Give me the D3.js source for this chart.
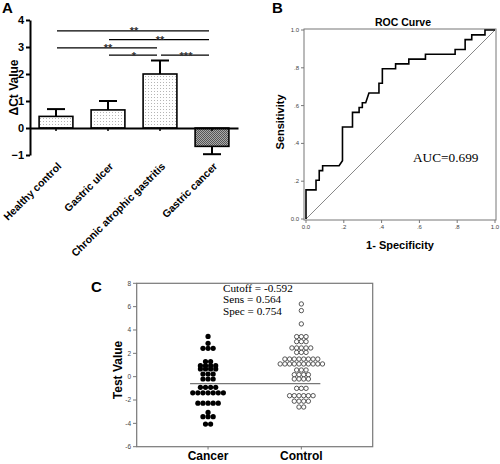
<!DOCTYPE html>
<html><head><meta charset="utf-8">
<script src="https://cdn.jsdelivr.net/npm/d3@7"></script>
<style>body{margin:0;background:#fff}svg{display:block}</style>
</head><body>
<svg id="chart" width="500" height="464"></svg>
<script>
// ---------- Panel A data ----------
const categoriesA = ["Healthy control","Gastric ulcer","Chronic atrophic gastritis","Gastric cancer"];
const meansA = [0.43, 0.67, 2.0, -0.68];
const errorsA = [0.27, 0.33, 0.5, 0.29];
const ticksA = [-1, 0, 1, 2, 3, 4];
const sigFrom = [0, 1, 0, 1, 2];
const sigTo = [3, 3, 2, 2, 3];
const sigLevel = [3.6, 3.27, 2.97, 2.7, 2.7];
const sigLabel = ["**", "**", "**", "*", "***"];
const yLabelA = "\u0394Ct Value";

// ---------- Panel B data ----------
const rocFpr = [0,0,0.053,0.053,0.070,0.070,0.088,0.088,0.175,0.193,0.193,0.246,0.246,0.281,0.281,0.298,0.298,0.316,0.333,0.386,0.386,0.404,0.404,0.474,0.474,0.544,0.544,0.632,0.632,0.789,0.789,0.842,0.842,0.877,0.877,0.947,0.947,1.0];
const rocTpr = [0,0.154,0.154,0.205,0.205,0.256,0.256,0.282,0.282,0.308,0.487,0.487,0.564,0.564,0.590,0.590,0.615,0.615,0.667,0.667,0.718,0.718,0.795,0.795,0.821,0.821,0.846,0.846,0.872,0.872,0.897,0.897,0.949,0.949,0.974,0.974,1.0,1.0];
const ticksB = [0, 0.2, 0.4, 0.6, 0.8, 1.0];
const tickLabelsB = ["0.0", ".2", ".4", ".6", ".8", "1.0"];
const titleB = "ROC Curve";
const aucText = "AUC=0.699";

// ---------- Panel C data ----------
const groupsC = ["Cancer", "Control"];
const cancerValues = [3.45, 2.86, 2.43,2.43,2.43, 1.3,1.3, 0.94,0.94,0.94,0.94, 0.66,0.66,0.66,0.66,
  0.23,0.23,0.23, -0.2,-0.2,-0.2, -0.91,-0.91,-0.91,-0.91, -1.38,-1.38,-1.38,-1.38,-1.38,-1.38,-1.38,
  -2.27,-2.27,-2.27,-2.27,-2.27, -3.06, -3.43,-3.43,-3.43, -4.06,-4.06];
const controlValues = [6.23, 5.66, 4.52, 3.43,3.43,3.43, 3.0,3.0,3.0, 2.46,2.46,2.46,2.46,2.46, 2.08,2.08,2.08,
  1.51,1.51,1.51,1.51,1.51,1.51,1.51,1.51, 1.09,1.09,1.09,1.09,1.09,1.09,1.09,1.09,1.09,1.09,
  0.57,0.57,0.57, 0.17,0.17,0.17,0.17, -0.2,-0.2,-0.2,-0.2, -1.0,-1.0,-1.0,
  -1.63,-1.63,-1.63,-1.63,-1.63,-1.63, -2.1,-2.1,-2.1,-2.1, -2.6,-2.6];
const ticksC = [-6, -4, -2, 0, 2, 4, 6, 8];
const cutoff = -0.592;
const statsText = ["Cutoff = -0.592", "Sens = 0.564", "Spec = 0.754"];

// ---------- drawing ----------
const SANS = "'Liberation Sans', Arial, sans-serif";
const SERIF = "'Liberation Serif', 'Times New Roman', serif";
const svg = d3.select("#chart");
const defs = svg.append("defs");
const pd = defs.append("pattern").attr("id","dots").attr("width",3).attr("height",3).attr("patternUnits","userSpaceOnUse");
pd.append("rect").attr("width",3).attr("height",3).attr("fill","#fff");
pd.append("rect").attr("x",1).attr("y",1).attr("width",1).attr("height",1).attr("fill","#b5b5b5");
const pc = defs.append("pattern").attr("id","check").attr("width",2).attr("height",2).attr("patternUnits","userSpaceOnUse");
pc.append("rect").attr("width",2).attr("height",2).attr("fill","#aaa");
pc.append("rect").attr("width",1).attr("height",1).attr("fill","#555");
pc.append("rect").attr("x",1).attr("y",1).attr("width",1).attr("height",1).attr("fill","#555");

function panelLabel(t, x, y) {
  svg.append("text").attr("x", x).attr("y", y).text(t)
    .attr("font-family", SANS).attr("font-weight", "bold").attr("font-size", 15);
}

// ===== Panel A =====
const yA = d3.scaleLinear().domain([-1, 4]).range([155, 20]);
const xA = d3.scaleBand().domain(categoriesA).range([30, 238]).paddingInner(0.35).paddingOuter(0.175);
const gA = svg.append("g");
panelLabel("A", 2, 13);

const axA = gA.append("g").attr("transform", "translate(30,0)")
  .call(d3.axisLeft(yA).tickValues(ticksA).tickSize(4).tickSizeOuter(0).tickPadding(2).tickFormat(d3.format("d")));
axA.select(".domain").attr("stroke-width", 2);
axA.selectAll(".tick line").attr("stroke-width", 2);
axA.selectAll("text").attr("font-family", SANS).attr("font-weight", "bold").attr("font-size", 11).attr("fill", "#000");

gA.append("text").attr("transform", `translate(18,${yA(1.5)}) rotate(-90)`)
  .attr("text-anchor", "middle").text(yLabelA)
  .attr("font-family", SANS).attr("font-weight", "bold").attr("font-size", 12);

const cA = i => xA(categoriesA[i]) + xA.bandwidth() / 2;

// bars
gA.selectAll(".bar").data(categoriesA).join("rect")
  .attr("x", d => xA(d)).attr("width", xA.bandwidth())
  .attr("y", (d, i) => yA(Math.max(0, meansA[i])))
  .attr("height", (d, i) => Math.abs(yA(meansA[i]) - yA(0)))
  .attr("fill", (d, i) => meansA[i] < 0 ? "url(#check)" : "url(#dots)")
  .attr("stroke", "#000").attr("stroke-width", 1.6);

// error bars
categoriesA.forEach((c, i) => {
  const v = meansA[i], e = errorsA[i] * Math.sign(v);
  const x = cA(i);
  gA.append("line").attr("x1", x).attr("x2", x).attr("y1", yA(v)).attr("y2", yA(v + e))
    .attr("stroke", "#000").attr("stroke-width", 2);
  gA.append("line").attr("x1", x - 9).attr("x2", x + 9).attr("y1", yA(v + e)).attr("y2", yA(v + e))
    .attr("stroke", "#000").attr("stroke-width", 2);
});

// x axis at zero
const axX = gA.append("g").attr("transform", `translate(0,${yA(0)})`)
  .call(d3.axisBottom(xA).tickSize(3).tickSizeOuter(0).tickFormat(""));
axX.select(".domain").attr("stroke-width", 2);
axX.selectAll(".tick line").attr("stroke-width", 1.5);

// rotated labels
gA.selectAll(".catlab").data(categoriesA).join("text")
  .attr("transform", (d, i) => `translate(${cA(i) + 6},167) rotate(-45)`)
  .attr("text-anchor", "end").text(d => d)
  .attr("font-family", SANS).attr("font-weight", "bold").attr("font-size", 10.5);

// significance brackets
sigLabel.forEach((s, k) => {
  const x1 = cA(sigFrom[k]) + 1, x2 = cA(sigTo[k]) - 3, y = yA(sigLevel[k]);
  gA.append("line").attr("x1", x1).attr("x2", x2).attr("y1", y).attr("y2", y)
    .attr("stroke", "#000").attr("stroke-width", 1.2);
  gA.append("text").attr("x", (cA(sigFrom[k]) + cA(sigTo[k])) / 2).attr("y", y + 4.5)
    .attr("text-anchor", "middle").text(s)
    .attr("font-family", SANS).attr("font-weight", "bold").attr("font-size", 11).attr("fill", "#333");
});

// ===== Panel B =====
panelLabel("B", 272, 13);
const xB = d3.scaleLinear().domain([0, 1]).range([306, 495]);
const yB = d3.scaleLinear().domain([0, 1]).range([219, 30]);
const gB = svg.append("g");
gB.append("rect").attr("x", 304).attr("y", 29).attr("width", 192).attr("height", 191)
  .attr("fill", "none").attr("stroke", "#777").attr("stroke-width", 1);
gB.append("text").attr("x", 403).attr("y", 26).attr("text-anchor", "middle").text(titleB)
  .attr("font-family", SANS).attr("font-weight", "bold").attr("font-size", 10.5);
ticksB.forEach((t, i) => {
  gB.append("line").attr("x1", 301).attr("x2", 304).attr("y1", yB(t)).attr("y2", yB(t)).attr("stroke", "#777");
  gB.append("text").attr("x", 299).attr("y", yB(t) + 2).attr("text-anchor", "end").text(tickLabelsB[i])
    .attr("font-family", SANS).attr("font-size", 6).attr("fill", "#444");
  gB.append("line").attr("x1", xB(t)).attr("x2", xB(t)).attr("y1", 220).attr("y2", 223).attr("stroke", "#777");
  gB.append("text").attr("x", xB(t)).attr("y", 229).attr("text-anchor", "middle").text(tickLabelsB[i])
    .attr("font-family", SANS).attr("font-size", 6).attr("fill", "#444");
});
gB.append("line").attr("x1", xB(0)).attr("y1", yB(0)).attr("x2", xB(1)).attr("y2", yB(1))
  .attr("stroke", "#888").attr("stroke-width", 1);
const rocPts = rocFpr.map((f, i) => [f, rocTpr[i]]);
gB.append("path").datum(rocPts)
  .attr("d", d3.line().x(d => xB(d[0])).y(d => yB(d[1])))
  .attr("fill", "none").attr("stroke", "#000").attr("stroke-width", 1.6);
gB.append("text").attr("transform", `translate(284,122) rotate(-90)`).attr("text-anchor", "middle")
  .text("Sensitivity").attr("font-family", SANS).attr("font-weight", "bold").attr("font-size", 11);
gB.append("text").attr("x", 400).attr("y", 249).attr("text-anchor", "middle")
  .text("1- Specificity").attr("font-family", SANS).attr("font-weight", "bold").attr("font-size", 11);
gB.append("text").attr("x", 413).attr("y", 162).text(aucText)
  .attr("font-family", SERIF).attr("font-size", 13.3);

// ===== Panel C =====
panelLabel("C", 91, 292);
const yC = d3.scaleLinear().domain([-6, 8]).range([446.7, 283.3]);
const xC = d3.scalePoint().domain(groupsC).range([136.7, 372.7]).padding(0.765);
const gC = svg.append("g");
gC.append("rect").attr("x", 136.7).attr("y", 283.3).attr("width", 236).attr("height", 163.4)
  .attr("fill", "none").attr("stroke", "#777").attr("stroke-width", 1.2);
ticksC.forEach(t => {
  gC.append("line").attr("x1", 133).attr("x2", 136.7).attr("y1", yC(t)).attr("y2", yC(t)).attr("stroke", "#777");
  gC.append("text").attr("x", 131).attr("y", yC(t) + 2.2).attr("text-anchor", "end").text(t)
    .attr("font-family", SANS).attr("font-size", 6.5).attr("fill", "#444");
});
groupsC.forEach(g => {
  gC.append("line").attr("x1", xC(g)).attr("x2", xC(g)).attr("y1", 446.7).attr("y2", 449.5).attr("stroke", "#777");
  gC.append("text").attr("x", xC(g)).attr("y", 460).attr("text-anchor", "middle").text(g)
    .attr("font-family", SANS).attr("font-weight", "bold").attr("font-size", 12);
});
gC.append("text").attr("transform", `translate(122,370) rotate(-90)`).attr("text-anchor", "middle")
  .text("Test Value").attr("font-family", SANS).attr("font-weight", "bold").attr("font-size", 12);

function dotLayout(values, spacing) {
  const out = [];
  d3.group(values, v => v).forEach((arr, v) => {
    arr.forEach((_, i) => out.push({ v, off: (i - (arr.length - 1) / 2) * spacing }));
  });
  return out;
}
gC.selectAll(".cd").data(dotLayout(cancerValues, 5.1)).join("circle")
  .attr("cx", d => xC("Cancer") + d.off).attr("cy", d => yC(d.v)).attr("r", 2.6).attr("fill", "#000");
gC.selectAll(".od").data(dotLayout(controlValues, 4.7)).join("circle")
  .attr("cx", d => xC("Control") + d.off).attr("cy", d => yC(d.v)).attr("r", 2.2)
  .attr("fill", "#fff").attr("stroke", "#444").attr("stroke-width", 0.9);
gC.append("line").attr("x1", xC("Cancer") - 18).attr("x2", xC("Control") + 19)
  .attr("y1", yC(cutoff)).attr("y2", yC(cutoff)).attr("stroke", "#777").attr("stroke-width", 1.2);
statsText.forEach((s, i) => {
  gC.append("text").attr("x", 223).attr("y", 292 + i * 11.4).text(s)
    .attr("font-family", SERIF).attr("font-size", 11.2);
});
</script>
</body></html>
